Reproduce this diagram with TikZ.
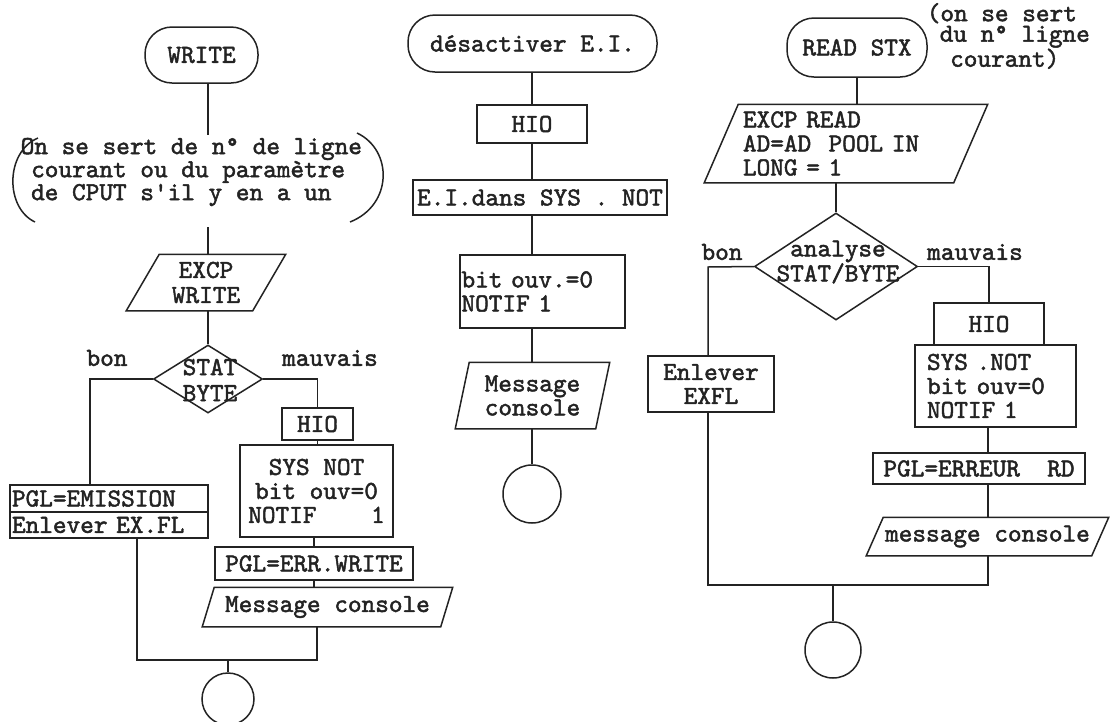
\documentclass[tikz,border=0pt]{standalone}
\usepackage{fontspec}
\usetikzlibrary{shapes.geometric}
\newfontfamily\tw{lmmono10-regular.otf}[FakeBold=1.8]
\definecolor{ink}{RGB}{35,35,35}
\newcommand\slantbox[2]{\draw ([xshift=#2]#1.north west) -- ([xshift=#2]#1.north east) -- ([xshift=-#2]#1.south east) -- ([xshift=-#2]#1.south west) -- cycle;}
\begin{document}
\begin{tikzpicture}[x=1pt,y=-1pt,line width=1.5pt,color=ink,
  every node/.style={font=\tw\fontsize{26}{24}\selectfont, inner sep=0pt},
  term/.style={draw, rectangle, rounded corners=27pt},
  proc/.style={draw, rectangle},
  io/.style={rectangle},
  dec/.style={draw, diamond, inner sep=0.5pt},
  conn/.style={draw, circle, inner sep=0.5pt}]
\fill[white] (0,0) rectangle (1117,721);
\useasboundingbox (0,0) rectangle (1117,721);

% ---------------- left column ----------------
\node[term, minimum width=113pt, minimum height=56pt] (write) at (201.5,55) {WRITE};
\node[align=left, anchor=west, font=\tw\fontsize{26}{20}\selectfont] (note1) at (20,172)
  {On se sert de n° de ligne\\\hspace{0.4em}courant ou du paramètre\\\hspace{0.4em}de CPUT s'il y en a un};
\draw (38,138) .. controls (5,152) and (5,208) .. (35,222);
\draw (357,133) .. controls (393,150) and (393,205) .. (350,222);
\coordinate (n1top) at (208,135);
\coordinate (n1bot) at (208,227);
\draw (n1top |- write.south) -- (n1top);

\node[io, minimum width=125pt, minimum height=55pt, align=center, font=\tw\fontsize{26}{25}\selectfont] (excp1) at (206,282.5) {EXCP\\WRITE};
\slantbox{excp1}{16.5pt}
\draw (n1bot) -- (n1bot |- excp1.north);

\node[dec, minimum width=109pt, minimum height=68pt] (dia1) at (208,379) {};
\node[align=center, font=\tw\fontsize{26}{26}\selectfont] (dia1t) at (210,380) {STAT\\BYTE};
\draw (dia1.north |- excp1.south) -- (dia1.north);
\node (bon1) at (107,358) {bon};
\node (mauv1) at (330,358) {mauvais};

\coordinate (b1) at (90,379);
\node[proc, minimum width=198pt, minimum height=27pt, text width=194pt, align=left] (pgla) at (109,498.5) {PGL=EMISSION};
\node[proc, minimum width=198pt, minimum height=26pt, text width=194pt, align=left] (pglb) at (109,525) {Enlever EX.FL};
\draw (dia1.west) -- (b1) -- (b1 |- pgla.north);

\node[proc, minimum width=71pt, minimum height=32pt] (hio1) at (317.5,424) {HIO};
\draw (dia1.east) -| (hio1.north);
\node[proc, minimum width=153pt, minimum height=92pt, align=center] (sys1) at (316.5,491) {SYS NOT\\bit ouv=0\\NOTIF\ \ \ \ 1};
\draw (hio1.south) -- (hio1.south |- sys1.north);
\node[proc, minimum width=198pt, minimum height=33pt] (pglerr1) at (314,563.5) {PGL=ERR.WRITE};
\draw (pglerr1.north |- sys1.south) -- (pglerr1.north);
\node[io, minimum width=237pt, minimum height=38pt] (msg1) at (327.5,607) {Message console};
\slantbox{msg1}{6pt}
\draw (pglerr1.south) -- (pglerr1.south |- msg1.north);
\coordinate (j1) at (137,660);
\coordinate (k1) at (317,660);
\draw (j1 |- pglb.south) -- (j1) -- (k1) -- (k1 |- msg1.south);
\node[conn, minimum size=52pt] (c1) at (228,699) {};
\draw (c1.north |- j1) -- (c1.north);

% ---------------- middle column ----------------
\coordinate (col2) at (532,0);
\node[term, minimum width=249pt, minimum height=57pt] (desact) at (532.5,43.5) {désactiver E.I.};
\node[proc, minimum width=110pt, minimum height=38pt] (hio2) at (532,124) {HIO};
\node[proc, minimum width=254pt, minimum height=35pt] (ei2) at (540,197.5) {E.I.dans SYS . NOT};
\node[proc, minimum width=165pt, minimum height=73pt, text width=162pt, align=left] (bit2) at (542.5,291.5) {bit ouv.=0\\NOTIF 1};
\node[io, minimum width=139pt, minimum height=65pt, align=center] (msg2) at (532.5,395.5) {Message\\console};
\slantbox{msg2}{7pt}
\node[conn, minimum size=58pt] (c2) at (532,494) {};
\draw (col2 |- desact.south) -- (col2 |- hio2.north);
\draw (col2 |- hio2.south) -- (col2 |- ei2.north);
\draw (col2 |- ei2.south) -- (col2 |- bit2.north);
\draw (col2 |- bit2.south) -- (col2 |- msg2.north);
\draw (col2 |- msg2.south) -- (c2.north);

% ---------------- right column ----------------
\node[term, minimum width=140pt, minimum height=59pt] (rs) at (857,47.5) {READ STX};
\node[align=left, anchor=west, font=\tw\fontsize{26}{20.5}\selectfont] (note3) at (926,36)
  {(on se sert\\\hspace{0.5em}du n° ligne\\\hspace{0.9em}courant)};
\node[io, minimum width=248pt, minimum height=77pt, text width=206pt, align=left] (excp3) at (846,143.5) {EXCP READ\\AD=AD\ \ POOL IN\\LONG = 1};
\slantbox{excp3}{17pt}
\draw (rs.south) -- (rs.south |- excp3.north);
\node[dec, minimum width=163pt, minimum height=107pt] (dia3) at (836,266.5) {};
\node[align=center, font=\tw\fontsize{26}{21}\selectfont] (dia3t) at (838,262) {analyse\\STAT/BYTE};
\draw (dia3.north |- excp3.south) -- (dia3.north);
\node (bon3) at (722,252) {bon};
\node (mauv3) at (975,252) {mauvais};
\coordinate (b3) at (708,267);
\node[proc, minimum width=126pt, minimum height=56pt, align=center] (enl3) at (711,384) {Enlever\\EXFL};
\draw (dia3.west) -- (b3) -- (b3 |- enl3.north);
\node[proc, minimum width=110pt, minimum height=42pt] (hio3) at (989,324) {HIO};
\draw (dia3.east) -| (hio3.north);
\node[proc, minimum width=161pt, minimum height=82pt, text width=137pt, align=left] (sys3) at (995.5,386) {SYS .NOT\\bit ouv=0\\NOTIF 1};
\node[proc, minimum width=212pt, minimum height=31pt] (pglrd3) at (979,468.5) {PGL=ERREUR\ \ RD};
\coordinate (k3) at (988,585);
\coordinate (j3) at (708,585);
\draw (k3 |- sys3.south) -- (k3 |- pglrd3.north);
\node[io, minimum width=224pt, minimum height=37pt] (msg3) at (987.5,536.5) {message console};
\slantbox{msg3}{8.5pt}
\draw (k3 |- pglrd3.south) -- (k3 |- msg3.north);
\draw (b3 |- enl3.south) -- (j3) -- (k3) -- (k3 |- msg3.south);
\node[conn, minimum size=56pt] (c3) at (833,650) {};
\draw (c3.north |- j3) -- (c3.north);
\end{tikzpicture}
\end{document}
